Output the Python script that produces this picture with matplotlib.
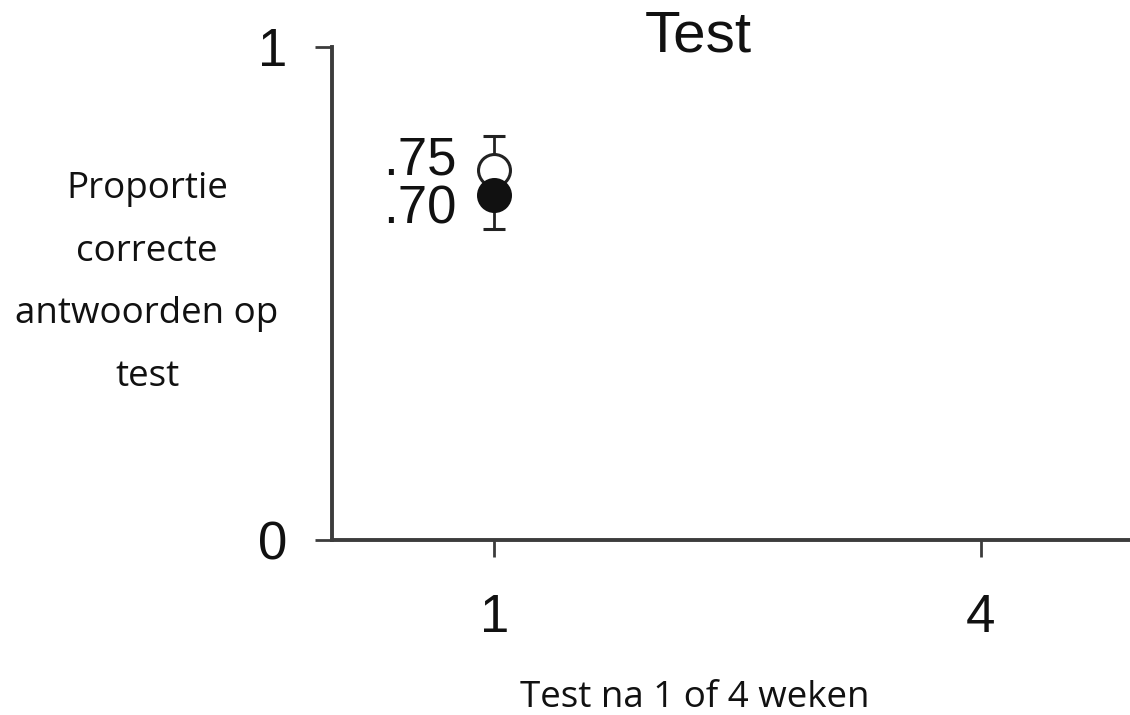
import matplotlib
matplotlib.use('Agg')
import matplotlib.pyplot as plt

# data
weeks = [1]
open_vals = [0.75]
open_err = [0.07]
filled_vals = [0.70]
filled_err = [0.07]
xticks = [1, 4]
yticks = [0, 1]
value_labels = ['.75', '.70']

AXIS_COLOR = '#3c3c3c'

fig = plt.figure(figsize=(11.3, 7.15), dpi=100)
ax = fig.add_axes([332 / 1130, 175 / 715, 798 / 1130, 493 / 715])

ax.errorbar(weeks, open_vals, yerr=[[0] * len(open_err), open_err], fmt='o',
            color='#222222', mfc='white', mec='#222222', ms=23, mew=2.2,
            elinewidth=2, capsize=8, capthick=2, zorder=3)
ax.errorbar(weeks, filled_vals, yerr=[filled_err, [0] * len(filled_err)], fmt='o',
            color='#222222', mfc='#111111', mec='#111111', ms=23, mew=2.2,
            elinewidth=2, capsize=8, capthick=2, zorder=4)

ax.text(weeks[0] - 0.23, open_vals[0] + 0.02, value_labels[0], ha='right', va='center',
        fontsize=38, family='Liberation Sans', color='#111111')
ax.text(weeks[0] - 0.23, filled_vals[0] - 0.03, value_labels[1], ha='right', va='center',
        fontsize=38, family='Liberation Sans', color='#111111')

ax.set_xlim(0, 4.92)
ax.set_ylim(0, 1)
ax.set_xticks(xticks)
ax.set_yticks(yticks)
ax.tick_params(axis='both', labelsize=38, width=2, length=12, color=AXIS_COLOR,
               labelcolor='#111111')
ax.tick_params(axis='x', pad=26)
ax.tick_params(axis='y', pad=20)
for lab in ax.get_xticklabels() + ax.get_yticklabels():
    lab.set_family('Liberation Sans')

for side in ['top', 'right']:
    ax.spines[side].set_visible(False)
for side in ['left', 'bottom']:
    ax.spines[side].set_linewidth(2.8)
    ax.spines[side].set_color(AXIS_COLOR)

fig.text(698 / 1130, 1 - 52 / 715, 'Test', ha='center', va='baseline',
         fontsize=42, family='Liberation Sans', color='#111111')
fig.text(147 / 1130, 1 - 283 / 715, 'Proportie\ncorrecte\nantwoorden op\ntest',
         ha='center', va='center', fontsize=26.5, family='Open Sans',
         linespacing=1.98, color='#111111')
fig.text(695 / 1130, 1 - 698 / 715, 'Test na 1 of 4 weken', ha='center', va='center',
         fontsize=26.5, family='Open Sans', color='#111111')

fig.savefig('out.png', dpi=100)
